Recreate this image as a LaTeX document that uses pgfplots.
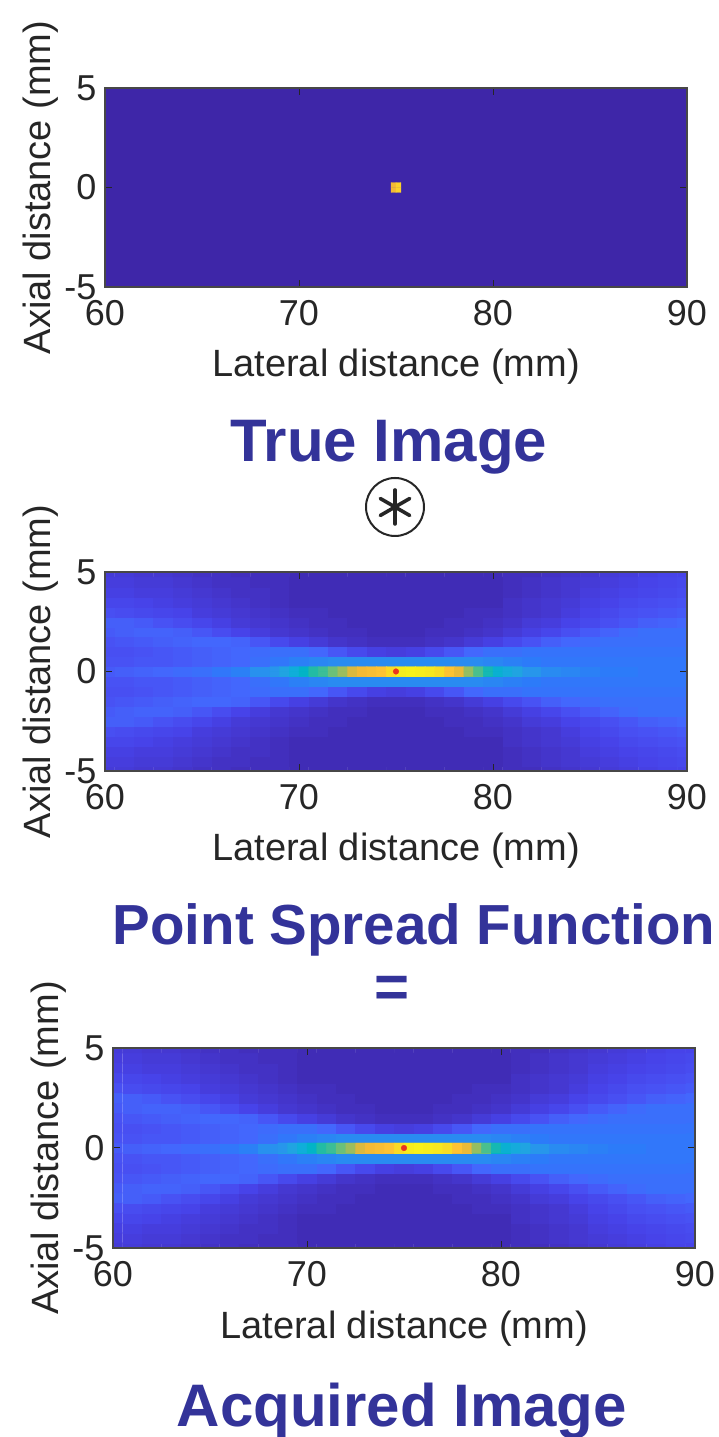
\documentclass[border=0pt]{standalone}
\usepackage{fontspec}
\setmainfont{Liberation Sans}
\usepackage{pgfplots}
\usepackage{pgfplotstable}
\pgfplotsset{compat=1.18}
\definecolor{titleblue}{RGB}{51,51,153}
\definecolor{axgray}{RGB}{38,38,38}
\definecolor{parmin}{RGB}{62,38,168}
\definecolor{dotred}{RGB}{232,52,32}
\newcommand{\tickfont}{\fontsize{36}{42}\selectfont}
\newcommand{\labfont}{\fontsize{38}{44}\selectfont}
\newcommand{\titfont}{\fontsize{60}{70}\selectfont\bfseries}
\newcommand{\titfontb}{\fontsize{56.5}{66}\selectfont\bfseries}

% Point spread function (also the acquired image): x = lateral (mm), y = axial (mm), c = normalised amplitude
\pgfplotstableread[row sep=\\]{
x y c\\
60 -5 .07\\ 61 -5 .07\\ 62 -5 .06\\ 63 -5 .06\\ 64 -5 .05\\ 65 -5 .04\\ 66 -5 .04\\ 67 -5 .03\\ 68 -5 .03\\ 69 -5 .03\\ 70 -5 .02\\ 71 -5 .02\\ 72 -5 .02\\ 73 -5 .02\\ 74 -5 .02\\ 75 -5 .02\\ 76 -5 .02\\ 77 -5 .02\\ 78 -5 .02\\ 79 -5 .02\\ 80 -5 .02\\ 81 -5 .03\\ 82 -5 .03\\ 83 -5 .04\\ 84 -5 .05\\ 85 -5 .06\\ 86 -5 .07\\ 87 -5 .08\\ 88 -5 .09\\ 89 -5 .10\\ 90 -5 .10\\
60 -4.5 .08\\ 61 -4.5 .08\\ 62 -4.5 .07\\ 63 -4.5 .07\\ 64 -4.5 .06\\ 65 -4.5 .05\\ 66 -4.5 .04\\ 67 -4.5 .04\\ 68 -4.5 .03\\ 69 -4.5 .03\\ 70 -4.5 .02\\ 71 -4.5 .02\\ 72 -4.5 .02\\ 73 -4.5 .02\\ 74 -4.5 .02\\ 75 -4.5 .02\\ 76 -4.5 .02\\ 77 -4.5 .02\\ 78 -4.5 .02\\ 79 -4.5 .02\\ 80 -4.5 .02\\ 81 -4.5 .03\\ 82 -4.5 .04\\ 83 -4.5 .05\\ 84 -4.5 .06\\ 85 -4.5 .07\\ 86 -4.5 .08\\ 87 -4.5 .09\\ 88 -4.5 .10\\ 89 -4.5 .11\\ 90 -4.5 .12\\
60 -4 .09\\ 61 -4 .09\\ 62 -4 .08\\ 63 -4 .08\\ 64 -4 .07\\ 65 -4 .06\\ 66 -4 .05\\ 67 -4 .04\\ 68 -4 .04\\ 69 -4 .03\\ 70 -4 .02\\ 71 -4 .02\\ 72 -4 .02\\ 73 -4 .02\\ 74 -4 .02\\ 75 -4 .02\\ 76 -4 .02\\ 77 -4 .02\\ 78 -4 .02\\ 79 -4 .02\\ 80 -4 .02\\ 81 -4 .03\\ 82 -4 .04\\ 83 -4 .05\\ 84 -4 .06\\ 85 -4 .08\\ 86 -4 .09\\ 87 -4 .10\\ 88 -4 .11\\ 89 -4 .12\\ 90 -4 .13\\
60 -3.5 .11\\ 61 -3.5 .11\\ 62 -3.5 .10\\ 63 -3.5 .09\\ 64 -3.5 .08\\ 65 -3.5 .07\\ 66 -3.5 .06\\ 67 -3.5 .05\\ 68 -3.5 .04\\ 69 -3.5 .03\\ 70 -3.5 .02\\ 71 -3.5 .02\\ 72 -3.5 .02\\ 73 -3.5 .02\\ 74 -3.5 .02\\ 75 -3.5 .02\\ 76 -3.5 .02\\ 77 -3.5 .02\\ 78 -3.5 .02\\ 79 -3.5 .02\\ 80 -3.5 .02\\ 81 -3.5 .04\\ 82 -3.5 .05\\ 83 -3.5 .06\\ 84 -3.5 .07\\ 85 -3.5 .09\\ 86 -3.5 .10\\ 87 -3.5 .12\\ 88 -3.5 .13\\ 89 -3.5 .14\\ 90 -3.5 .15\\
60 -3 .14\\ 61 -3 .13\\ 62 -3 .12\\ 63 -3 .11\\ 64 -3 .10\\ 65 -3 .08\\ 66 -3 .07\\ 67 -3 .06\\ 68 -3 .05\\ 69 -3 .04\\ 70 -3 .03\\ 71 -3 .03\\ 72 -3 .02\\ 73 -3 .02\\ 74 -3 .02\\ 75 -3 .02\\ 76 -3 .02\\ 77 -3 .02\\ 78 -3 .02\\ 79 -3 .03\\ 80 -3 .03\\ 81 -3 .04\\ 82 -3 .05\\ 83 -3 .06\\ 84 -3 .08\\ 85 -3 .10\\ 86 -3 .12\\ 87 -3 .14\\ 88 -3 .15\\ 89 -3 .16\\ 90 -3 .17\\
60 -2.5 .18\\ 61 -2.5 .18\\ 62 -2.5 .17\\ 63 -2.5 .15\\ 64 -2.5 .13\\ 65 -2.5 .11\\ 66 -2.5 .09\\ 67 -2.5 .07\\ 68 -2.5 .06\\ 69 -2.5 .05\\ 70 -2.5 .04\\ 71 -2.5 .03\\ 72 -2.5 .03\\ 73 -2.5 .02\\ 74 -2.5 .02\\ 75 -2.5 .02\\ 76 -2.5 .02\\ 77 -2.5 .02\\ 78 -2.5 .03\\ 79 -2.5 .03\\ 80 -2.5 .04\\ 81 -2.5 .05\\ 82 -2.5 .07\\ 83 -2.5 .08\\ 84 -2.5 .10\\ 85 -2.5 .12\\ 86 -2.5 .14\\ 87 -2.5 .16\\ 88 -2.5 .18\\ 89 -2.5 .19\\ 90 -2.5 .20\\
60 -2 .17\\ 61 -2 .18\\ 62 -2 .19\\ 63 -2 .19\\ 64 -2 .18\\ 65 -2 .16\\ 66 -2 .13\\ 67 -2 .10\\ 68 -2 .08\\ 69 -2 .06\\ 70 -2 .05\\ 71 -2 .04\\ 72 -2 .03\\ 73 -2 .03\\ 74 -2 .02\\ 75 -2 .02\\ 76 -2 .02\\ 77 -2 .03\\ 78 -2 .03\\ 79 -2 .04\\ 80 -2 .05\\ 81 -2 .07\\ 82 -2 .09\\ 83 -2 .11\\ 84 -2 .14\\ 85 -2 .17\\ 86 -2 .19\\ 87 -2 .21\\ 88 -2 .22\\ 89 -2 .22\\ 90 -2 .22\\
60 -1.5 .15\\ 61 -1.5 .16\\ 62 -1.5 .17\\ 63 -1.5 .18\\ 64 -1.5 .19\\ 65 -1.5 .20\\ 66 -1.5 .20\\ 67 -1.5 .19\\ 68 -1.5 .16\\ 69 -1.5 .12\\ 70 -1.5 .09\\ 71 -1.5 .07\\ 72 -1.5 .05\\ 73 -1.5 .04\\ 74 -1.5 .03\\ 75 -1.5 .03\\ 76 -1.5 .03\\ 77 -1.5 .04\\ 78 -1.5 .05\\ 79 -1.5 .07\\ 80 -1.5 .09\\ 81 -1.5 .12\\ 82 -1.5 .15\\ 83 -1.5 .18\\ 84 -1.5 .20\\ 85 -1.5 .21\\ 86 -1.5 .22\\ 87 -1.5 .22\\ 88 -1.5 .22\\ 89 -1.5 .22\\ 90 -1.5 .22\\
60 -1 .14\\ 61 -1 .14\\ 62 -1 .15\\ 63 -1 .16\\ 64 -1 .17\\ 65 -1 .18\\ 66 -1 .19\\ 67 -1 .20\\ 68 -1 .21\\ 69 -1 .22\\ 70 -1 .22\\ 71 -1 .20\\ 72 -1 .16\\ 73 -1 .12\\ 74 -1 .09\\ 75 -1 .08\\ 76 -1 .09\\ 77 -1 .12\\ 78 -1 .16\\ 79 -1 .20\\ 80 -1 .22\\ 81 -1 .22\\ 82 -1 .23\\ 83 -1 .23\\ 84 -1 .23\\ 85 -1 .23\\ 86 -1 .23\\ 87 -1 .23\\ 88 -1 .23\\ 89 -1 .23\\ 90 -1 .23\\
60 -0.5 .15\\ 61 -0.5 .15\\ 62 -0.5 .16\\ 63 -0.5 .16\\ 64 -0.5 .17\\ 65 -0.5 .18\\ 66 -0.5 .19\\ 67 -0.5 .20\\ 68 -0.5 .22\\ 69 -0.5 .24\\ 70 -0.5 .26\\ 71 -0.5 .27\\ 72 -0.5 .28\\ 73 -0.5 .28\\ 74 -0.5 .28\\ 75 -0.5 .28\\ 76 -0.5 .28\\ 77 -0.5 .28\\ 78 -0.5 .28\\ 79 -0.5 .28\\ 80 -0.5 .27\\ 81 -0.5 .26\\ 82 -0.5 .25\\ 83 -0.5 .24\\ 84 -0.5 .24\\ 85 -0.5 .24\\ 86 -0.5 .24\\ 87 -0.5 .24\\ 88 -0.5 .24\\ 89 -0.5 .24\\ 90 -0.5 .24\\
60 0 .17\\ 61 0 .18\\ 62 0 .19\\ 63 0 .20\\ 64 0 .21\\ 65 0 .22\\ 66 0 .24\\ 67 0 .26\\ 68 0 .29\\ 69 0 .33\\ 70 0 .42\\ 71 0 .50\\ 72 0 .62\\ 73 0 .78\\ 74 0 .82\\ 75 0 .95\\ 76 0 .97\\ 77 0 .95\\ 78 0 .80\\ 79 0 .60\\ 80 0 .45\\ 81 0 .34\\ 82 0 .30\\ 83 0 .28\\ 84 0 .27\\ 85 0 .26\\ 86 0 .25\\ 87 0 .25\\ 88 0 .24\\ 89 0 .24\\ 90 0 .24\\
60 0.5 .15\\ 61 0.5 .15\\ 62 0.5 .16\\ 63 0.5 .16\\ 64 0.5 .17\\ 65 0.5 .18\\ 66 0.5 .19\\ 67 0.5 .20\\ 68 0.5 .22\\ 69 0.5 .24\\ 70 0.5 .26\\ 71 0.5 .27\\ 72 0.5 .28\\ 73 0.5 .28\\ 74 0.5 .28\\ 75 0.5 .28\\ 76 0.5 .28\\ 77 0.5 .28\\ 78 0.5 .28\\ 79 0.5 .28\\ 80 0.5 .27\\ 81 0.5 .26\\ 82 0.5 .25\\ 83 0.5 .24\\ 84 0.5 .24\\ 85 0.5 .24\\ 86 0.5 .24\\ 87 0.5 .24\\ 88 0.5 .24\\ 89 0.5 .24\\ 90 0.5 .24\\
60 1 .14\\ 61 1 .14\\ 62 1 .15\\ 63 1 .16\\ 64 1 .17\\ 65 1 .18\\ 66 1 .19\\ 67 1 .20\\ 68 1 .21\\ 69 1 .22\\ 70 1 .22\\ 71 1 .20\\ 72 1 .16\\ 73 1 .12\\ 74 1 .09\\ 75 1 .08\\ 76 1 .09\\ 77 1 .12\\ 78 1 .16\\ 79 1 .20\\ 80 1 .22\\ 81 1 .22\\ 82 1 .23\\ 83 1 .23\\ 84 1 .23\\ 85 1 .23\\ 86 1 .23\\ 87 1 .23\\ 88 1 .23\\ 89 1 .23\\ 90 1 .23\\
60 1.5 .15\\ 61 1.5 .16\\ 62 1.5 .17\\ 63 1.5 .18\\ 64 1.5 .19\\ 65 1.5 .20\\ 66 1.5 .20\\ 67 1.5 .19\\ 68 1.5 .16\\ 69 1.5 .12\\ 70 1.5 .09\\ 71 1.5 .07\\ 72 1.5 .05\\ 73 1.5 .04\\ 74 1.5 .03\\ 75 1.5 .03\\ 76 1.5 .03\\ 77 1.5 .04\\ 78 1.5 .05\\ 79 1.5 .07\\ 80 1.5 .09\\ 81 1.5 .12\\ 82 1.5 .15\\ 83 1.5 .18\\ 84 1.5 .20\\ 85 1.5 .21\\ 86 1.5 .22\\ 87 1.5 .22\\ 88 1.5 .22\\ 89 1.5 .22\\ 90 1.5 .22\\
60 2 .17\\ 61 2 .18\\ 62 2 .19\\ 63 2 .19\\ 64 2 .18\\ 65 2 .16\\ 66 2 .13\\ 67 2 .10\\ 68 2 .08\\ 69 2 .06\\ 70 2 .05\\ 71 2 .04\\ 72 2 .03\\ 73 2 .03\\ 74 2 .02\\ 75 2 .02\\ 76 2 .02\\ 77 2 .03\\ 78 2 .03\\ 79 2 .04\\ 80 2 .05\\ 81 2 .07\\ 82 2 .09\\ 83 2 .11\\ 84 2 .14\\ 85 2 .17\\ 86 2 .19\\ 87 2 .21\\ 88 2 .22\\ 89 2 .22\\ 90 2 .22\\
60 2.5 .18\\ 61 2.5 .18\\ 62 2.5 .17\\ 63 2.5 .15\\ 64 2.5 .13\\ 65 2.5 .11\\ 66 2.5 .09\\ 67 2.5 .07\\ 68 2.5 .06\\ 69 2.5 .05\\ 70 2.5 .04\\ 71 2.5 .03\\ 72 2.5 .03\\ 73 2.5 .02\\ 74 2.5 .02\\ 75 2.5 .02\\ 76 2.5 .02\\ 77 2.5 .02\\ 78 2.5 .03\\ 79 2.5 .03\\ 80 2.5 .04\\ 81 2.5 .05\\ 82 2.5 .07\\ 83 2.5 .08\\ 84 2.5 .10\\ 85 2.5 .12\\ 86 2.5 .14\\ 87 2.5 .16\\ 88 2.5 .18\\ 89 2.5 .19\\ 90 2.5 .20\\
60 3 .14\\ 61 3 .13\\ 62 3 .12\\ 63 3 .11\\ 64 3 .10\\ 65 3 .08\\ 66 3 .07\\ 67 3 .06\\ 68 3 .05\\ 69 3 .04\\ 70 3 .03\\ 71 3 .03\\ 72 3 .02\\ 73 3 .02\\ 74 3 .02\\ 75 3 .02\\ 76 3 .02\\ 77 3 .02\\ 78 3 .02\\ 79 3 .03\\ 80 3 .03\\ 81 3 .04\\ 82 3 .05\\ 83 3 .06\\ 84 3 .08\\ 85 3 .10\\ 86 3 .12\\ 87 3 .14\\ 88 3 .15\\ 89 3 .16\\ 90 3 .17\\
60 3.5 .11\\ 61 3.5 .11\\ 62 3.5 .10\\ 63 3.5 .09\\ 64 3.5 .08\\ 65 3.5 .07\\ 66 3.5 .06\\ 67 3.5 .05\\ 68 3.5 .04\\ 69 3.5 .03\\ 70 3.5 .02\\ 71 3.5 .02\\ 72 3.5 .02\\ 73 3.5 .02\\ 74 3.5 .02\\ 75 3.5 .02\\ 76 3.5 .02\\ 77 3.5 .02\\ 78 3.5 .02\\ 79 3.5 .02\\ 80 3.5 .02\\ 81 3.5 .04\\ 82 3.5 .05\\ 83 3.5 .06\\ 84 3.5 .07\\ 85 3.5 .09\\ 86 3.5 .10\\ 87 3.5 .12\\ 88 3.5 .13\\ 89 3.5 .14\\ 90 3.5 .15\\
60 4 .09\\ 61 4 .09\\ 62 4 .08\\ 63 4 .08\\ 64 4 .07\\ 65 4 .06\\ 66 4 .05\\ 67 4 .04\\ 68 4 .04\\ 69 4 .03\\ 70 4 .02\\ 71 4 .02\\ 72 4 .02\\ 73 4 .02\\ 74 4 .02\\ 75 4 .02\\ 76 4 .02\\ 77 4 .02\\ 78 4 .02\\ 79 4 .02\\ 80 4 .02\\ 81 4 .03\\ 82 4 .04\\ 83 4 .05\\ 84 4 .06\\ 85 4 .08\\ 86 4 .09\\ 87 4 .10\\ 88 4 .11\\ 89 4 .12\\ 90 4 .13\\
60 4.5 .08\\ 61 4.5 .08\\ 62 4.5 .07\\ 63 4.5 .07\\ 64 4.5 .06\\ 65 4.5 .05\\ 66 4.5 .04\\ 67 4.5 .04\\ 68 4.5 .03\\ 69 4.5 .03\\ 70 4.5 .02\\ 71 4.5 .02\\ 72 4.5 .02\\ 73 4.5 .02\\ 74 4.5 .02\\ 75 4.5 .02\\ 76 4.5 .02\\ 77 4.5 .02\\ 78 4.5 .02\\ 79 4.5 .02\\ 80 4.5 .02\\ 81 4.5 .03\\ 82 4.5 .04\\ 83 4.5 .05\\ 84 4.5 .06\\ 85 4.5 .07\\ 86 4.5 .08\\ 87 4.5 .09\\ 88 4.5 .10\\ 89 4.5 .11\\ 90 4.5 .12\\
60 5 .07\\ 61 5 .07\\ 62 5 .06\\ 63 5 .06\\ 64 5 .05\\ 65 5 .04\\ 66 5 .04\\ 67 5 .03\\ 68 5 .03\\ 69 5 .03\\ 70 5 .02\\ 71 5 .02\\ 72 5 .02\\ 73 5 .02\\ 74 5 .02\\ 75 5 .02\\ 76 5 .02\\ 77 5 .02\\ 78 5 .02\\ 79 5 .02\\ 80 5 .02\\ 81 5 .03\\ 82 5 .03\\ 83 5 .04\\ 84 5 .05\\ 85 5 .06\\ 86 5 .07\\ 87 5 .08\\ 88 5 .09\\ 89 5 .10\\ 90 5 .10\\
}\psf

% Fine sampling of the bright central line (0.5 mm cells, |y| < 0.25 mm)
\pgfplotstableread[row sep=\\]{
x y c\\
68.75 -0.125 .30\\ 69.25 -0.125 .34\\ 69.75 -0.125 .40\\ 70.25 -0.125 .45\\ 70.75 -0.125 .50\\ 71.25 -0.125 .54\\ 71.75 -0.125 .60\\ 72.25 -0.125 .66\\ 72.75 -0.125 .75\\ 73.25 -0.125 .80\\ 73.75 -0.125 .82\\ 74.25 -0.125 .85\\ 74.75 -0.125 .92\\ 75.25 -0.125 .97\\ 75.75 -0.125 .98\\ 76.25 -0.125 .97\\ 76.75 -0.125 .96\\ 77.25 -0.125 .93\\ 77.75 -0.125 .85\\ 78.25 -0.125 .78\\ 78.75 -0.125 .65\\ 79.25 -0.125 .56\\ 79.75 -0.125 .48\\ 80.25 -0.125 .42\\ 80.75 -0.125 .38\\ 81.25 -0.125 .34\\
68.75 0.125 .30\\ 69.25 0.125 .34\\ 69.75 0.125 .40\\ 70.25 0.125 .45\\ 70.75 0.125 .50\\ 71.25 0.125 .54\\ 71.75 0.125 .60\\ 72.25 0.125 .66\\ 72.75 0.125 .75\\ 73.25 0.125 .80\\ 73.75 0.125 .82\\ 74.25 0.125 .85\\ 74.75 0.125 .92\\ 75.25 0.125 .97\\ 75.75 0.125 .98\\ 76.25 0.125 .97\\ 76.75 0.125 .96\\ 77.25 0.125 .93\\ 77.75 0.125 .85\\ 78.25 0.125 .78\\ 78.75 0.125 .65\\ 79.25 0.125 .56\\ 79.75 0.125 .48\\ 80.25 0.125 .42\\ 80.75 0.125 .38\\ 81.25 0.125 .34\\
}\psfline

\pgfplotsset{
  colormap={parula}{
    rgb255(0cm)=(62,38,168) rgb255(1cm)=(68,53,203) rgb255(2cm)=(71,67,233)
    rgb255(3cm)=(72,82,244) rgb255(4cm)=(67,103,253) rgb255(5cm)=(44,123,249)
    rgb255(6cm)=(39,150,235) rgb255(7cm)=(30,167,223) rgb255(8cm)=(15,174,217)
    rgb255(9cm)=(2,180,198) rgb255(10cm)=(34,188,164) rgb255(11cm)=(66,191,146)
    rgb255(12cm)=(107,192,121) rgb255(13cm)=(149,190,98) rgb255(14cm)=(185,187,80)
    rgb255(15cm)=(218,185,63) rgb255(16cm)=(243,186,53) rgb255(17cm)=(253,195,51)
    rgb255(18cm)=(252,210,43) rgb255(19cm)=(246,227,33) rgb255(20cm)=(249,251,21)},
  imgaxis/.style={
    scale only axis, width=582pt, height=199pt,
    xmin=60, xmax=90, ymin=-5, ymax=5, enlargelimits=false,
    xtick={60,70,80,90}, xticklabels={60,70,80,90},
    ytick={-5,0,5}, yticklabels={-5,0,5},
    tick align=inside, major tick length=7pt,
    axis line style={draw=axgray!85, line width=1.3pt},
    tick style={draw=axgray, line width=1pt},
    every tick label/.append style={font=\tickfont, text=axgray},
    xticklabel style={yshift=-10pt},
    yticklabel style={xshift=-5pt},
    xlabel={Lateral distance (mm)}, ylabel={Axial distance (mm)},
    every axis x label/.style={at={(axis description cs:0.5,0)}, anchor=base, yshift=-90pt, font=\labfont, text=axgray},
    every axis y label/.style={at={(axis description cs:-0.0945,0.5)}, rotate=90, anchor=base, font=\labfont, text=axgray},
    colormap name=parula, point meta min=0, point meta max=1,
    axis on top,
  },
}

\begin{document}
\begin{tikzpicture}[x=1pt,y=1pt]
\useasboundingbox (0,0) rectangle (718,1437);

% --- True image ---
\begin{axis}[imgaxis, at={(105pt,1150pt)}, anchor=south west,
  axis background/.style={fill=parmin}]
  \addplot[matrix plot*, mesh/cols=2, point meta=explicit] coordinates {
    (74.875,-0.125) [0.80] (75.125,-0.125) [0.90]
    (74.875,0.125) [0.80] (75.125,0.125) [0.90]
  };
\end{axis}

% --- Point spread function ---
\begin{axis}[imgaxis, at={(105pt,666pt)}, anchor=south west]
  \addplot[matrix plot*, mesh/cols=31, point meta=explicit] table[x=x, y=y, meta=c] {\psf};
  \addplot[matrix plot*, mesh/cols=26, point meta=explicit] table[x=x, y=y, meta=c] {\psfline};
  \addplot[only marks, mark=*, mark size=2.8pt, mark options={draw=dotred, fill=dotred}] coordinates {(75,0)};
\end{axis}

% --- Acquired image ---
\begin{axis}[imgaxis, height=200pt, at={(113pt,189pt)}, anchor=south west]
  \addplot[matrix plot*, mesh/cols=31, point meta=explicit] table[x=x, y=y, meta=c] {\psf};
  \addplot[matrix plot*, mesh/cols=26, point meta=explicit] table[x=x, y=y, meta=c] {\psfline};
  \addplot[only marks, mark=*, mark size=2.8pt, mark options={draw=dotred, fill=dotred}] coordinates {(75,0)};
\end{axis}

% --- titles and operators ---
\node[anchor=base, font=\titfont, text=titleblue, inner sep=0pt] at (389,975) {True Image};
\draw[line width=2pt, axgray] (395,930) circle (29);
\foreach \a in {90,30,150} {
  \draw[line width=3.6pt, line cap=round, black!85] (395,930) ++(\a:17) -- ++(\a+180:34);
}
\node[anchor=base, font=\titfontb, text=titleblue, inner sep=0pt] at (414,492) {Point Spread Function};
\node[anchor=base, font=\titfont, text=titleblue, inner sep=0pt] at (392,429) {=};
\node[anchor=base, font=\titfont, text=titleblue, inner sep=0pt] at (402,10) {Acquired Image};
\end{tikzpicture}
\end{document}
